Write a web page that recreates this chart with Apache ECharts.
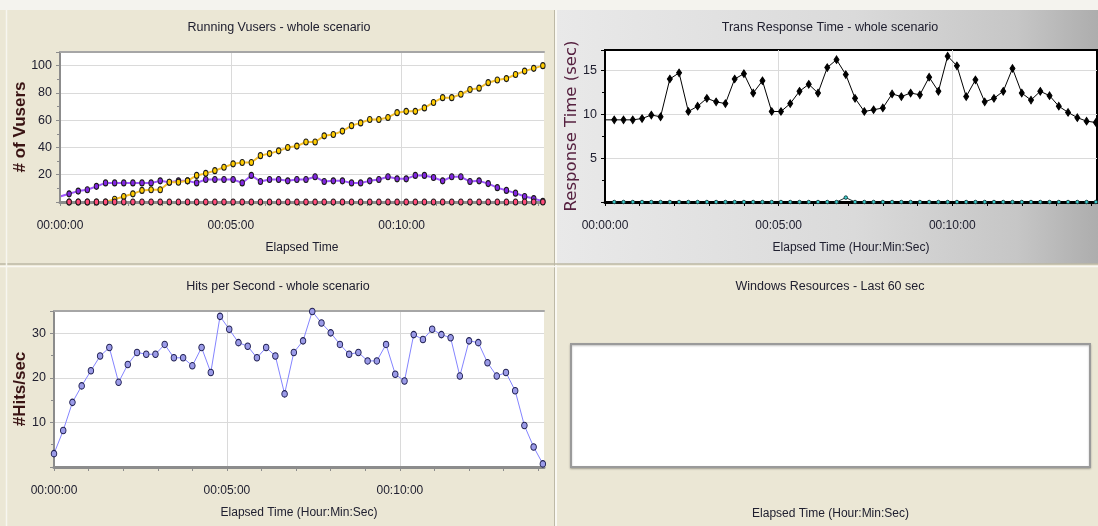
<!DOCTYPE html>
<html>
<head>
<meta charset="utf-8">
<script src="https://cdn.jsdelivr.net/npm/echarts@6/dist/echarts.min.js"></script>
<style>
  html, body { margin: 0; padding: 0; background: #ebe7d5; }
  #chart { width: 1098px; height: 526px; }
</style>
</head>
<body>
<div id="chart"></div>
<script>
// Sample timestamps in seconds since scenario start (16 s granularity)
const elapsedSec = [0,16,32,48,64,80,96,112,128,144,160,176,192,208,224,240,256,272,288,304,320,336,352,368,384,400,416,432,448,464,480,496,512,528,544,560,576,592,608,624,640,656,672,688,704,720,736,752,768,784,800,816,832,848];

// Running Vusers by status
const vusersRun = [0,0,0,0,0,0,2,4,6,8.5,9,9,14.5,14.5,15.5,19.5,21,23,25.5,28,29,29,34,35.5,37.5,40,41,44,44,48.5,49.5,52,56,58,60.5,60.5,62,65.5,66.5,66.5,69,73,76.5,76.5,79,82.5,83.5,87.5,89.5,90.5,93.5,96,98,100];
const vusersReady = [4,6,8,9,11.5,14,14,14,14,14,14,15.5,14.5,15.5,15.5,14,16.5,16.5,16.5,16.5,14,19.5,15,16.5,16.5,15.5,16.5,16.5,18.5,15,15.5,15.5,14,14,15.5,16.5,18.5,17,17,19.5,19.5,18,15.5,18.5,18.5,15,15.5,13.5,10.5,8.5,6.5,4,2.5,0.5];
const vusersError = [0,0,0,0,0,0,0,0,0,0,0,0,0,0,0,0,0,0,0,0,0,0,0,0,0,0,0,0,0,0,0,0,0,0,0,0,0,0,0,0,0,0,0,0,0,0,0,0,0,0,0,0,0,0];

// Transaction response time (sec)
const transMain = [9.35,9.35,9.35,9.35,9.5,9.9,9.7,14,14.7,10.3,10.9,11.8,11.4,11.2,14,14.6,12.4,13.8,10.3,10.3,11.2,12.6,13.4,12.4,15.3,16.2,14.5,11.8,10.3,10.5,10.7,12.3,12,12.4,12.2,14.2,12.6,16.6,15.5,12,13.9,11.4,11.8,12.6,15.2,12.4,11.6,12.6,12.1,10.9,10.2,9.6,9.2,9.05];
const transLogin = [0,0,0,0,0,0,0,0,0,0,0,0,0,0,0,0,0,0,0,0,0,0,0,0,0,0,0.5,0,0,0,0,0,0,0,0,0,0,0,0,0,0,0,0,0,0,0,0,0,0,0,0,0,0,0];

// Hits per second
const hitsPerSec = [3,8.2,14.5,18.2,21.6,24.9,26.8,19,23,25.7,25.3,25.3,27.5,24.5,24.5,22.7,26.8,21.2,33.8,30.9,27.9,27.1,24.5,26.8,24.9,16.4,25.7,28.3,34.9,32.3,30.1,27.5,25.3,25.7,23.8,23.8,27.5,20.8,19.3,29.7,28.6,30.9,29.7,29,20.4,28.3,27.9,23.4,20.4,21.2,17.1,9.3,4.5,0.7];

// Axis ticks
const timeLabelSec = [0, 300, 600];
const minuteTickSec = [0,60,120,180,240,300,360,420,480,540,600,660,720,780,840];
const vuserTicks = [20, 40, 60, 80, 100];
const responseTicks = [5, 10, 15];
const hitsTicks = [10, 20, 30];

const TIME_MAX = 850;
const FONT = "'Liberation Sans',Arial,sans-serif";
const TEXT = '#202030';
const GRID_LINE = '#dadada';

function hms(sec) {
  const h = Math.floor(sec / 3600), m = Math.floor((sec % 3600) / 60), s = sec % 60;
  return [h, m, s].map(v => String(v).padStart(2, '0')).join(':');
}
function pairs(values) { return values.map((v, i) => [elapsedSec[i], v]); }

// Bottom time axis: one for labels and split lines (below the series),
// one for the axis line and minute ticks (above the series lines).
function timeAxes(gridIndex, o) {
  const axes = [
    {
      type: 'value', gridIndex, min: 0, max: TIME_MAX, interval: 300, position: 'bottom',
      axisLine: { show: false, onZero: false }, axisTick: { show: false },
      axisLabel: { customValues: timeLabelSec, formatter: hms, margin: 18, color: TEXT,
                   fontSize: 12, fontFamily: FONT },
      splitLine: { show: true, showMinLine: false, showMaxLine: false, lineStyle: { color: GRID_LINE } },
      name: o.name, nameLocation: 'middle', nameGap: o.nameGap, nameMoveOverlap: false,
      nameTextStyle: { color: TEXT, fontSize: 12, fontFamily: FONT }
    },
    {
      type: 'value', gridIndex, min: 0, max: TIME_MAX, position: 'bottom', z: 3,
      axisLine: { show: true, onZero: false, lineStyle: { color: o.color, width: o.width } },
      axisTick: { show: true, customValues: minuteTickSec, length: 4, lineStyle: { color: o.color, width: 1 } },
      axisLabel: { show: false }, splitLine: { show: false }
    }
  ];
  if (o.frameTop) {
    axes.push({
      type: 'value', gridIndex, min: 0, max: TIME_MAX, position: 'top', z: 3,
      axisLine: { show: true, onZero: false, lineStyle: { color: o.frameTop, width: 2 } },
      axisTick: { show: false }, axisLabel: { show: false }, splitLine: { show: false }
    });
  }
  return axes;
}

function valueAxes(gridIndex, o) {
  return [
    {
      type: 'value', gridIndex, min: 0, max: o.max, interval: o.interval, position: 'left',
      axisLine: { show: false, onZero: false }, axisTick: { show: false },
      axisLabel: { customValues: o.labels, margin: 8, color: TEXT, fontSize: 12.5, fontFamily: FONT },
      splitLine: { show: true, showMinLine: false, showMaxLine: false, lineStyle: { color: GRID_LINE } },
      name: o.name, nameLocation: 'middle', nameGap: o.nameGap, nameRotate: 90, nameMoveOverlap: false,
      nameTextStyle: o.nameStyle
    },
    {
      type: 'value', gridIndex, min: 0, max: o.max, interval: o.interval, position: 'left', z: 3,
      axisLine: { show: true, onZero: false, lineStyle: { color: o.color, width: o.width } },
      axisTick: { show: true, length: 4, lineStyle: { color: o.color } },
      minorTick: { show: true, splitNumber: 2, length: 3, lineStyle: { color: o.color } },
      axisLabel: { show: false }, splitLine: { show: false }
    }
  ];
}

// A series is drawn as a plain line under the axis line plus a marker layer on top.
function lineSeries(values, xi, yi, color, width) {
  return { type: 'line', xAxisIndex: xi, yAxisIndex: yi, data: pairs(values), symbol: 'none',
           z: 2, silent: true, lineStyle: { color, width } };
}
function markerSeries(values, xi, yi, st, skipFirst) {
  const data = pairs(values);
  return { type: 'scatter', xAxisIndex: xi, yAxisIndex: yi, data: skipFirst ? data.slice(1) : data,
           z: 4, silent: true, symbol: st.symbol, symbolSize: st.size,
           itemStyle: { color: st.fill, borderColor: st.border, borderWidth: 1, opacity: 1 } };
}

const xAxis = [
  ...timeAxes(0, { name: 'Elapsed Time', nameGap: 40, color: '#8c8c8c', width: 3, frameTop: '#a6a6a6' }),
  ...timeAxes(1, { name: 'Elapsed Time (Hour:Min:Sec)', nameGap: 40, color: '#000', width: 3 }),
  ...timeAxes(2, { name: 'Elapsed Time (Hour:Min:Sec)', nameGap: 39.5, color: '#8c8c8c', width: 3, frameTop: '#a6a6a6' }),
  { type: 'value', gridIndex: 3, min: 0, max: 60, axisLine: { show: false, onZero: false }, axisTick: { show: false },
    axisLabel: { show: false }, splitLine: { show: false },
    name: 'Elapsed Time (Hour:Min:Sec)', nameLocation: 'middle', nameGap: 40.5, nameMoveOverlap: false,
    nameTextStyle: { color: TEXT, fontSize: 12, fontFamily: FONT } }
];
// indices: grid0 -> 0,1,2 ; grid1 -> 3,4 ; grid2 -> 5,6,7 ; grid3 -> 8

const yAxis = [
  ...valueAxes(0, { max: 110, interval: 20, labels: vuserTicks, name: '# of Vusers', nameGap: 31,
                    color: '#8c8c8c', width: 2,
                    nameStyle: { color: '#3a1414', fontSize: 17, fontWeight: 'bold', fontFamily: FONT } }),
  ...valueAxes(1, { max: 17.3, interval: 5, labels: responseTicks, name: 'Response Time (sec)', nameGap: 25,
                    color: '#000', width: 1,
                    nameStyle: { color: '#55203f', fontSize: 16.5, fontFamily: "'DejaVu Sans',sans-serif" } }),
  ...valueAxes(2, { max: 35, interval: 10, labels: hitsTicks, name: '#Hits/sec', nameGap: 25,
                    color: '#8c8c8c', width: 2,
                    nameStyle: { color: '#3a1414', fontSize: 17, fontWeight: 'bold', fontFamily: FONT } }),
  { type: 'value', gridIndex: 3, show: false, min: 0, max: 100 }
];
// indices: grid0 -> 0,1 ; grid1 -> 2,3 ; grid2 -> 4,5 ; grid3 -> 6

const mkVuser = (fill) => ({ symbol: 'circle', size: [4.5, 6], fill, border: '#1a1a1a' });

const series = [
  // Running Vusers
  lineSeries(vusersError, 0, 0, '#ff3b6f', 1),
  lineSeries(vusersReady, 0, 0, '#a158ff', 2),
  lineSeries(vusersRun, 0, 0, '#f5c02e', 2),
  markerSeries(vusersReady, 0, 0, mkVuser('#8226e0'), true),
  markerSeries(vusersRun, 0, 0, mkVuser('#ffcc00'), true),
  markerSeries(vusersError, 0, 0, mkVuser('#ff4d7a'), true),
  // Trans Response Time
  lineSeries(transLogin, 3, 2, '#1c3434', 1),
  lineSeries(transMain, 3, 2, '#000', 1),
  markerSeries(transLogin, 3, 2, { symbol: 'circle', size: [3.5, 3.5], fill: '#3ccfcf', border: '#1c4444' }, true),
  markerSeries(transMain, 3, 2, { symbol: 'diamond', size: [5, 7.5], fill: '#000', border: '#000' }, true),
  // Hits per Second
  lineSeries(hitsPerSec, 5, 4, '#8484ff', 1),
  markerSeries(hitsPerSec, 5, 4, { symbol: 'circle', size: [5.5, 6.5], fill: '#9b9be8', border: '#1e1e50' }, false)
];

const titles = [
  { text: 'Running Vusers - whole scenario', left: 279, top: 28 },
  { text: 'Trans Response Time - whole scenario', left: 830, top: 28 },
  { text: 'Hits per Second - whole scenario', left: 278, top: 287 },
  { text: 'Windows Resources - Last 60 sec', left: 830, top: 287 }
].map(t => Object.assign(t, {
  padding: 0, textAlign: 'center', textVerticalAlign: 'middle',
  textStyle: { fontFamily: FONT, fontSize: 12.5, fontWeight: 'normal', color: TEXT }
}));

const gridBase = { show: true, backgroundColor: '#fff', borderWidth: 0, containLabel: false, outerBoundsMode: 'none' };
const grid = [
  Object.assign({}, gridBase, { left: 60, top: 52, width: 484, height: 150 }),
  Object.assign({}, gridBase, { left: 605, top: 50, width: 492, height: 152, borderColor: '#000', borderWidth: 2 }),
  Object.assign({}, gridBase, { left: 54, top: 311, width: 490, height: 156 }),
  Object.assign({}, gridBase, { left: 571, top: 344, width: 519, height: 123, borderColor: '#9a9a9a', borderWidth: 2,
                                shadowColor: 'rgba(0,0,0,0.25)', shadowBlur: 2, shadowOffsetY: 1 })
];

// Window frame: panel backgrounds and splitter lines
const graphic = [
  { type: 'rect', z: -10, silent: true, shape: { x: 0, y: 0, width: 1098, height: 526 }, style: { fill: '#ebe7d5' } },
  { type: 'rect', z: -9, silent: true, shape: { x: 0, y: 0, width: 1098, height: 10 }, style: { fill: '#f4f3ee' } },
  { type: 'rect', z: -9, silent: true, shape: { x: 557, y: 10, width: 541, height: 254 },
    style: { fill: { type: 'linear', x: 0, y: 0, x2: 1, y2: 0,
      colorStops: [{ offset: 0, color: '#e9e9e9' }, { offset: 0.55, color: '#dadada' },
                   { offset: 0.85, color: '#c6c6c6' }, { offset: 1, color: '#adadad' }] } } },
  { type: 'line', z: -8, silent: true, shape: { x1: 554.5, y1: 10, x2: 554.5, y2: 526 }, style: { stroke: '#bdb9a6', lineWidth: 1 } },
  { type: 'line', z: -8, silent: true, shape: { x1: 556, y1: 10, x2: 556, y2: 526 }, style: { stroke: '#f9f8f2', lineWidth: 2 } },
  { type: 'line', z: -8, silent: true, shape: { x1: 0, y1: 264, x2: 1098, y2: 264 }, style: { stroke: '#bcb8a4', lineWidth: 1.5 } },
  { type: 'line', z: -8, silent: true, shape: { x1: 0, y1: 266.5, x2: 1098, y2: 266.5 }, style: { stroke: '#f9f8f2', lineWidth: 1.5 } },
  { type: 'line', z: -8, silent: true, shape: { x1: 6.5, y1: 10, x2: 6.5, y2: 526 }, style: { stroke: '#f7f6f0', lineWidth: 1.5 } }
];

const chart = echarts.init(document.getElementById('chart'), null, { renderer: 'canvas' });
chart.setOption({
  animation: false,
  backgroundColor: 'transparent',
  textStyle: { fontFamily: FONT },
  graphic, title: titles, grid, xAxis, yAxis, series
});
</script>
</body>
</html>
